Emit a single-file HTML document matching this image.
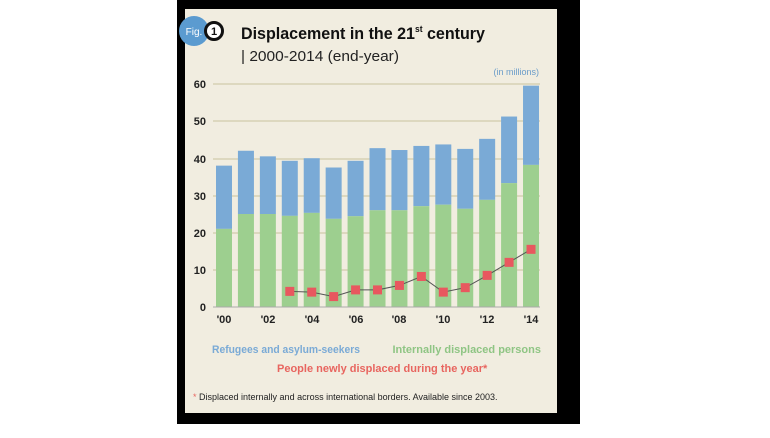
<!DOCTYPE html>
<html><head><meta charset="utf-8"><style>
body{margin:0;background:#fff;width:770px;height:433px;overflow:hidden}
</style></head><body>
<svg width="770" height="433" viewBox="0 0 770 433" xmlns="http://www.w3.org/2000/svg" font-family="'Liberation Sans', sans-serif">
<rect x="0" y="0" width="770" height="433" fill="#fff"/>
<rect x="177" y="0" width="403" height="424" fill="#000"/>
<rect x="185" y="9" width="372" height="404" fill="#f1ede0"/>
<circle cx="194" cy="31" r="15" fill="#5b9bd0"/>
<text x="194" y="35" font-size="10" fill="#fff" text-anchor="middle">Fig.</text>
<circle cx="214" cy="31" r="8.5" fill="#fff" stroke="#111" stroke-width="3"/>
<text x="214" y="35" font-size="11" font-weight="bold" fill="#111" text-anchor="middle">1</text>
<text x="241" y="39" font-size="17" font-weight="bold" fill="#111" textLength="244" lengthAdjust="spacingAndGlyphs">Displacement in the 21<tspan font-size="9" dy="-7">st</tspan><tspan dy="7"> century</tspan></text>
<text x="241" y="61" font-size="15" fill="#222" textLength="158" lengthAdjust="spacingAndGlyphs">| 2000-2014 (end-year)</text>
<text x="539" y="75" font-size="9" fill="#6a9cc9" text-anchor="end">(in millions)</text>
<g stroke="#c9c29e" stroke-width="1">
<line x1="213" y1="84" x2="540" y2="84"/><line x1="213" y1="121" x2="540" y2="121"/>
<line x1="213" y1="159" x2="540" y2="159"/><line x1="213" y1="196" x2="540" y2="196"/>
<line x1="213" y1="233" x2="540" y2="233"/><line x1="213" y1="270" x2="540" y2="270"/>
</g>
<g font-size="11" font-weight="bold" fill="#222" text-anchor="end">
<text x="206" y="88">60</text><text x="206" y="125">50</text><text x="206" y="163">40</text>
<text x="206" y="200">30</text><text x="206" y="237">20</text><text x="206" y="274">10</text><text x="206" y="311">0</text>
</g>
<g id="bars"></g>
<line x1="213" y1="307" x2="540" y2="307" stroke="#aaa" stroke-width="1"/>
<polyline id="ln" fill="none" stroke="#555" stroke-width="1"/>
<g id="mk"></g>
<g font-size="11" font-weight="bold" fill="#222" text-anchor="middle">
<text x="224" y="323">'00</text><text x="268" y="323">'02</text><text x="312" y="323">'04</text>
<text x="356" y="323">'06</text><text x="399" y="323">'08</text><text x="443" y="323">'10</text>
<text x="487" y="323">'12</text><text x="531" y="323">'14</text>
</g>
<text x="212" y="353" font-size="11" font-weight="bold" fill="#7aaad6" textLength="148" lengthAdjust="spacingAndGlyphs">Refugees and asylum-seekers</text>
<text x="541" y="353" font-size="11" font-weight="bold" fill="#8fc584" text-anchor="end">Internally displaced persons</text>
<text x="277" y="372" font-size="11" font-weight="bold" fill="#e8655f">People newly displaced during the year*</text>
<text x="193" y="400" font-size="9" fill="#222"><tspan fill="#e8655f">*</tspan> Displaced internally and across international borders. Available since 2003.</text>
</svg>
<script>
var T=[38,42,40.5,39.3,40,37.5,39.3,42.7,42.2,43.3,43.7,42.5,45.2,51.2,59.5];
var I=[21,25,25,24.5,25.3,23.7,24.4,26,26,27.1,27.5,26.4,28.8,33.3,38.2];
var N=[null,null,null,4.2,4.0,2.8,4.6,4.6,5.8,8.2,4.0,5.2,8.5,12,15.5];
var ns="http://www.w3.org/2000/svg",g=document.getElementById('bars'),m=document.getElementById('mk'),pts=[];
function y(v){return 307-v*3.72}
for(var i=0;i<15;i++){var x=216+i*21.93;
var r=document.createElementNS(ns,'rect');r.setAttribute('x',x);r.setAttribute('width',16);r.setAttribute('y',y(T[i]));r.setAttribute('height',(T[i]-I[i])*3.72);r.setAttribute('fill','#7aaad6');g.appendChild(r);
r=document.createElementNS(ns,'rect');r.setAttribute('x',x);r.setAttribute('width',16);r.setAttribute('y',y(I[i]));r.setAttribute('height',I[i]*3.72);r.setAttribute('fill','#9dcf8f');g.appendChild(r);
if(N[i]!=null){pts.push((x+8)+','+y(N[i]));r=document.createElementNS(ns,'rect');r.setAttribute('x',x+3.5);r.setAttribute('y',y(N[i])-4.5);r.setAttribute('width',9);r.setAttribute('height',9);r.setAttribute('fill','#e8585f');m.appendChild(r);}}
document.getElementById('ln').setAttribute('points',pts.join(' '));
</script>
</body></html>
